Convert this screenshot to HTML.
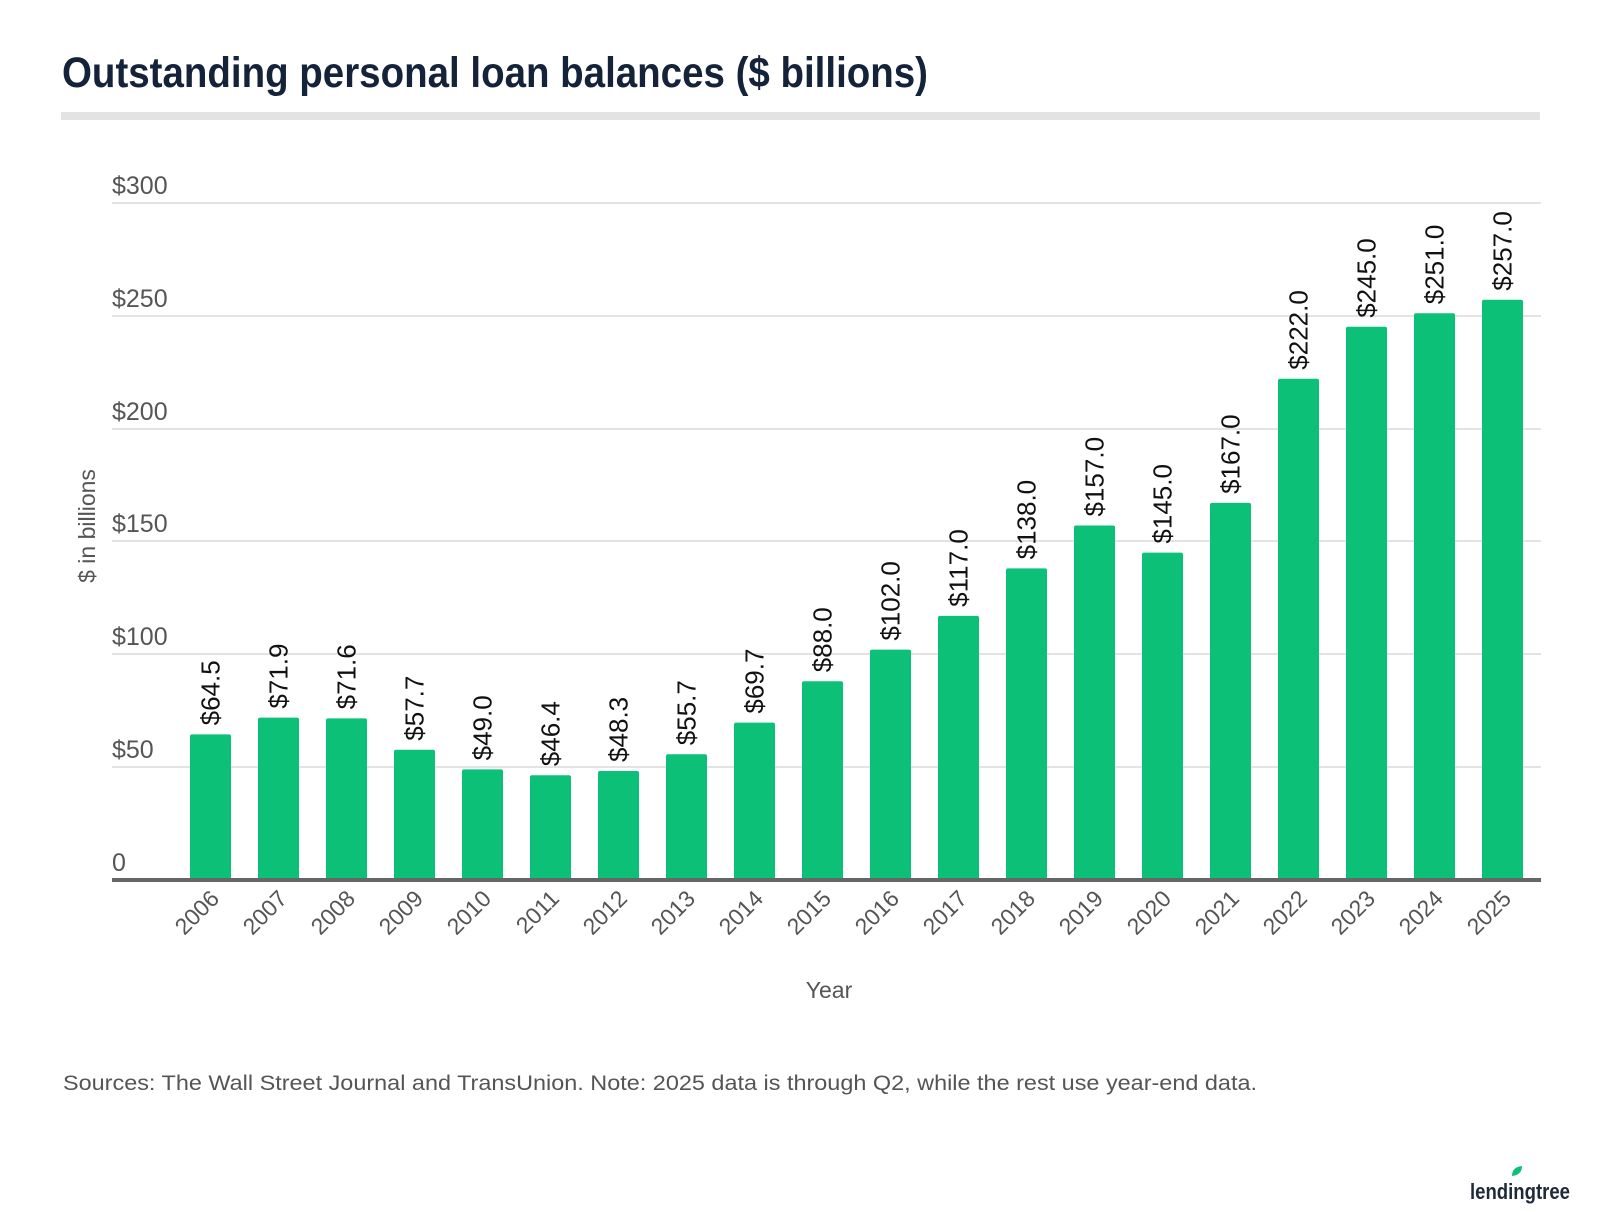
<!DOCTYPE html>
<html><head><meta charset="utf-8"><style>
html,body{margin:0;padding:0;background:#fff;}
svg{display:block;font-family:"Liberation Sans",sans-serif;}
</style></head><body>
<svg width="1600" height="1212" viewBox="0 0 1600 1212" xmlns="http://www.w3.org/2000/svg">
<rect width="1600" height="1212" fill="#fff"/>
<text x="62" y="87" font-size="43" font-weight="bold" fill="#14233a" textLength="866" lengthAdjust="spacingAndGlyphs">Outstanding personal loan balances ($ billions)</text>
<rect x="61" y="112" width="1479" height="8" fill="#e3e3e3"/>
<g stroke="#e3e3e3" stroke-width="2">
<line x1="112" y1="203" x2="1541" y2="203"/>
<line x1="112" y1="316" x2="1541" y2="316"/>
<line x1="112" y1="429" x2="1541" y2="429"/>
<line x1="112" y1="541" x2="1541" y2="541"/>
<line x1="112" y1="654" x2="1541" y2="654"/>
<line x1="112" y1="767" x2="1541" y2="767"/>
</g>
<g font-size="25" fill="#555">
<text x="112" y="194">$300</text>
<text x="112" y="307">$250</text>
<text x="112" y="420">$200</text>
<text x="112" y="532">$150</text>
<text x="112" y="645">$100</text>
<text x="112" y="758">$50</text>
<text x="112" y="871">0</text>
</g>
<text transform="translate(95,526) rotate(-90)" text-anchor="middle" font-size="23" fill="#555">$ in billions</text>
<g id="bars" fill="#0cc177"></g>
<g id="vals" font-size="26" fill="#111"></g>
<g id="yrs" font-size="23" fill="#555"></g>
<rect x="112" y="878" width="1429" height="4" fill="#666"/>
<text x="829" y="998" text-anchor="middle" font-size="23" fill="#555">Year</text>
<text x="63" y="1090" font-size="21" fill="#555" textLength="1194" lengthAdjust="spacingAndGlyphs">Sources: The Wall Street Journal and TransUnion. Note: 2025 data is through Q2, while the rest use year-end data.</text>
<path d="M1512 1176 q0-9 10-10 q0 9-10 10z" fill="#0cc177"/>
<text x="1470" y="1199" font-size="22" font-weight="bold" fill="#1e2a3a" textLength="100" lengthAdjust="spacingAndGlyphs">lendingtree</text>
<script>
var v=[64.5,71.9,71.6,57.7,49.0,46.4,48.3,55.7,69.7,88.0,102.0,117.0,138.0,157.0,145.0,167.0,222.0,245.0,251.0,257.0];
var ns="http://www.w3.org/2000/svg",b=document.getElementById('bars'),l=document.getElementById('vals'),y=document.getElementById('yrs');
v.forEach(function(d,i){
 var x=190+i*68,t=880-d*2.258,c=x+20.5;
 var r=document.createElementNS(ns,'rect');r.setAttribute('x',x);r.setAttribute('y',t);r.setAttribute('width',41);r.setAttribute('height',880-t);r.setAttribute('rx',2);b.appendChild(r);
 var s=document.createElementNS(ns,'text');s.setAttribute('transform','translate('+(c+9)+','+(t-9)+') rotate(-90)');s.textContent='$'+d.toFixed(1);l.appendChild(s);
 var q=document.createElementNS(ns,'text');q.setAttribute('transform','translate('+(c+10)+',900) rotate(-45)');q.setAttribute('text-anchor','end');q.textContent=2006+i;y.appendChild(q);
});
</script>
</svg>
</body></html>
